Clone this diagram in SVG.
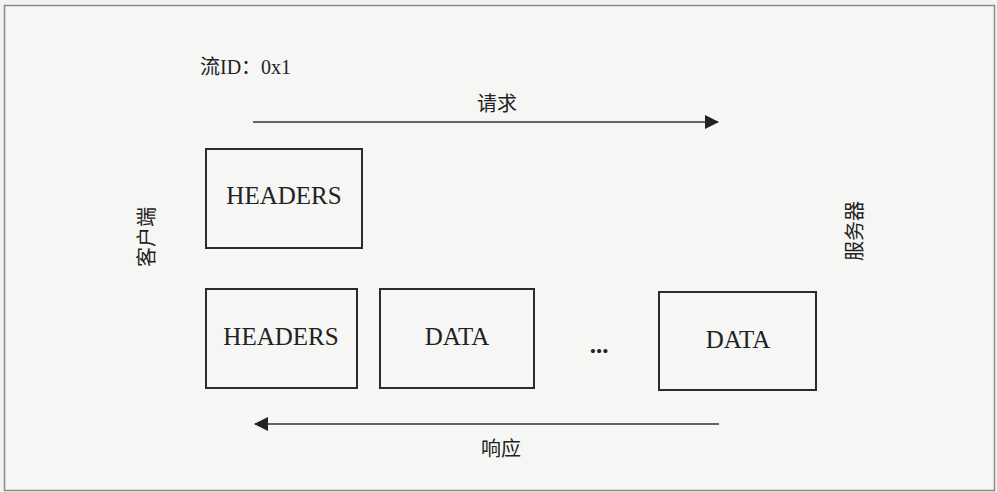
<svg xmlns="http://www.w3.org/2000/svg" width="997" height="492" viewBox="0 0 997 492">
  <style>
    .box { fill: none; stroke: #2b2b2b; stroke-width: 2; }
    .lat { font-family: "Liberation Serif", "Times New Roman", serif; font-size: 25px; fill: #222; text-anchor: middle; }
    .cjk { font-family: "Liberation Serif", "Noto Sans CJK SC", serif; font-size: 20px; fill: #222; }
    .mid { text-anchor: middle; }
    .conn { stroke: #333; stroke-width: 1.6; fill: none; }
  </style>
  <defs>
    <marker id="arrow" viewBox="0 0 14 14" refX="13" refY="7" markerWidth="14" markerHeight="14" markerUnits="userSpaceOnUse" orient="auto">
      <path d="M0,0 L14,7 L0,14 Z" fill="#222"/>
    </marker>
  </defs>
  <rect x="0" y="0" width="997" height="492" fill="#f3f3f1"/>
  <rect x="4.5" y="5.5" width="990" height="485" fill="#f6f6f4" stroke="#8a8a8a" stroke-width="1.5"/>

  <text class="cjk" x="200" y="74">流ID：0x1</text>

  <g id="connectors">
    <line class="conn" x1="253" y1="122" x2="718" y2="122" marker-end="url(#arrow)"/>
    <text class="cjk mid" x="497" y="111">请求</text>
    <line class="conn" x1="719" y1="424" x2="255" y2="424" marker-end="url(#arrow)"/>
    <text class="cjk mid" x="501" y="456">响应</text>
  </g>

  <g id="client">
    <text class="cjk mid" transform="translate(154,237) rotate(-90)">客户端</text>
  </g>
  <g id="server">
    <text class="cjk mid" transform="translate(862,231) rotate(-90)">服务器</text>
  </g>

  <g id="req-headers">
    <rect class="box" x="206" y="149" width="156" height="99"/>
    <text class="lat" x="284" y="204">HEADERS</text>
  </g>

  <g id="resp-headers">
    <rect class="box" x="206" y="289" width="151" height="99"/>
    <text class="lat" x="281" y="345">HEADERS</text>
  </g>
  <g id="resp-data-1">
    <rect class="box" x="380" y="289" width="154" height="99"/>
    <text class="lat" x="457" y="345">DATA</text>
  </g>
  <g id="ellipsis">
    <text class="lat" x="599" y="353" font-weight="bold">...</text>
  </g>
  <g id="resp-data-2">
    <rect class="box" x="659" y="292" width="157" height="98"/>
    <text class="lat" x="738" y="348">DATA</text>
  </g>
</svg>
